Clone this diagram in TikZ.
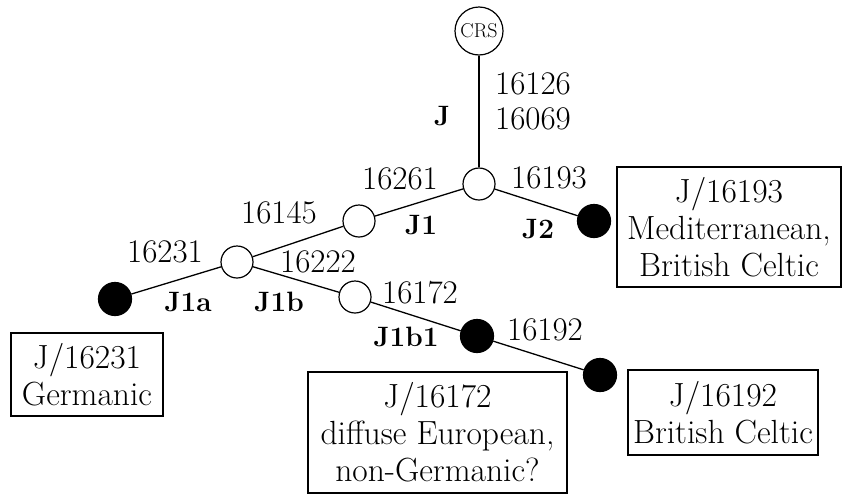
\documentclass[tikz,border=0pt]{standalone}
\usepackage{fontspec}
\setmainfont{Latin Modern Roman}
\begin{document}
\begin{tikzpicture}[x=1pt,y=-1pt,
  every node/.style={inner sep=0pt},
  open/.style={circle,draw,line width=1.2pt,fill=white,minimum size=32pt},
  leaf/.style={circle,draw,line width=1.2pt,fill=black,minimum size=33pt},
  mut/.style={font=\fontsize{33}{36}\selectfont},
  hap/.style={font=\fontsize{28}{32}\selectfont\bfseries},
  infobox/.style={draw,line width=1.3pt,align=center,font=\fontsize{33.5}{37}\selectfont},
  edge/.style={line width=1.3pt}]
\useasboundingbox (0,0) rectangle (845,493);
% nodes
\node[circle,draw,line width=1.2pt,minimum size=48pt,inner sep=0pt] (crs) at (479,31) {\fontsize{20}{20}\selectfont CRS};
\node[open] (j) at (479,184) {};
\node[open] (j1) at (359,221) {};
\node[open] (j1s) at (237,262) {};
\node[leaf] (j1a) at (115,299) {};
\node[open] (j1b) at (355,297) {};
\node[leaf] (j1b1) at (477,336) {};
\node[leaf] (bc) at (600,375) {};
\node[leaf] (j2) at (594,221) {};
% edges
\draw[edge] (crs) -- (j);
\draw[edge] (j) -- (j1);
\draw[edge] (j) -- (j2);
\draw[edge] (j1) -- (j1s);
\draw[edge] (j1s) -- (j1a);
\draw[edge] (j1s) -- (j1b);
\draw[edge] (j1b) -- (j1b1);
\draw[edge] (j1b1) -- (bc);
% mutation labels
\node[mut] (m1) at (533,84) {16126};
\node[mut] (m2) at (533,119) {16069};
\node[mut] (m3) at (400,179) {16261};
\node[mut] (m4) at (549,178) {16193};
\node[mut] (m5) at (279,213) {16145};
\node[mut] (m6) at (165,252) {16231};
\node[mut] (m7) at (318,262) {16222};
\node[mut] (m8) at (420,293) {16172};
\node[mut] (m9) at (545,330) {16192};
% haplogroup labels
\node[hap] (hJ) at (442,116) {J};
\node[hap] (hJ1) at (421,225) {J1};
\node[hap] (hJ2) at (538,229) {J2};
\node[hap] (hJ1a) at (188,302) {J1a};
\node[hap] (hJ1b) at (279,302) {J1b};
\node[hap] (hJ1b1) at (406,337) {J1b1};
% boxes
\node[infobox,minimum width=224pt,minimum height=120pt] (b1) at (729,227) {J/16193\\Mediterranean,\\British Celtic};
\node[infobox,minimum width=190pt,minimum height=85pt] (b2) at (723,412.5) {J/16192\\British Celtic};
\node[infobox,minimum width=152pt,minimum height=83pt] (b3) at (87,374.5) {J/16231\\Germanic};
\node[infobox,minimum width=259pt,minimum height=121pt] (b4) at (437.5,432.5) {J/16172\\diffuse European,\\non-Germanic?};
\end{tikzpicture}
\end{document}
